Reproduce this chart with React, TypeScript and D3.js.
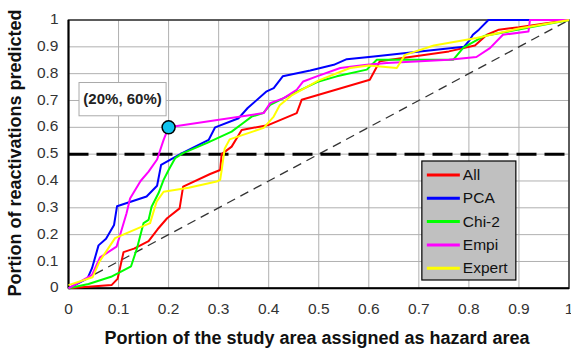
import { useRef, useEffect } from 'react'
import * as d3 from 'd3'

type Pt = [number, number]

const SERIES_NAMES = ['All', 'PCA', 'Chi-2', 'Empi', 'Expert']
const COLORS = ['#ff0000', '#0000ff', '#00ff00', '#ff00ff', '#ffff00']

// [portion of area, portion of reactivations]
const ALL: Pt[] = [
  [0, 0], [0.086, 0.012], [0.098, 0.035], [0.11, 0.135], [0.131, 0.148], [0.16, 0.176],
  [0.178, 0.22], [0.197, 0.261], [0.222, 0.298], [0.229, 0.379], [0.283, 0.426], [0.303, 0.441],
  [0.306, 0.5], [0.326, 0.528], [0.346, 0.59], [0.4, 0.609], [0.456, 0.653], [0.466, 0.703],
  [0.602, 0.777], [0.622, 0.846], [0.76, 0.883], [0.812, 0.905], [0.836, 0.945], [0.86, 0.964],
  [0.9, 0.973], [1, 1],
]
const PCA: Pt[] = [
  [0, 0], [0.038, 0.037], [0.047, 0.075], [0.06, 0.16], [0.075, 0.185], [0.091, 0.236],
  [0.097, 0.306], [0.156, 0.342], [0.177, 0.382], [0.185, 0.46], [0.226, 0.503], [0.28, 0.553],
  [0.293, 0.6], [0.34, 0.634], [0.358, 0.672], [0.396, 0.734], [0.41, 0.746], [0.428, 0.79],
  [0.483, 0.812], [0.53, 0.833], [0.556, 0.854], [0.61, 0.864], [0.79, 0.9], [0.802, 0.926],
  [0.808, 0.945], [0.82, 0.964], [0.839, 1], [1, 1],
]
const CHI2: Pt[] = [
  [0, 0], [0.04, 0.016], [0.085, 0.043], [0.125, 0.082], [0.137, 0.15], [0.15, 0.243],
  [0.16, 0.255], [0.166, 0.304], [0.18, 0.355], [0.19, 0.404], [0.2, 0.441], [0.213, 0.485],
  [0.229, 0.504], [0.276, 0.541], [0.326, 0.584], [0.349, 0.616], [0.366, 0.64], [0.389, 0.653],
  [0.403, 0.684], [0.443, 0.721], [0.5, 0.771], [0.536, 0.79], [0.596, 0.815], [0.616, 0.852],
  [0.769, 0.852], [0.789, 0.897], [0.83, 0.94], [0.915, 0.97], [1, 1],
]
const EMPI: Pt[] = [
  [0, 0], [0.047, 0.05], [0.063, 0.115], [0.096, 0.155], [0.116, 0.28], [0.123, 0.335],
  [0.144, 0.4], [0.16, 0.435], [0.177, 0.48], [0.19, 0.553], [0.2, 0.6], [0.39, 0.653],
  [0.403, 0.69], [0.43, 0.709], [0.456, 0.74], [0.469, 0.771], [0.496, 0.79], [0.543, 0.821],
  [0.596, 0.833], [0.636, 0.84], [0.76, 0.852], [0.815, 0.862], [0.842, 0.895], [0.868, 0.945],
  [0.919, 0.957], [0.922, 1], [1, 1],
]
const EXPERT: Pt[] = [
  [0, 0.012], [0.048, 0.041], [0.062, 0.1], [0.093, 0.187], [0.163, 0.243], [0.176, 0.323],
  [0.19, 0.36], [0.24, 0.375], [0.296, 0.398], [0.303, 0.404], [0.306, 0.44], [0.312, 0.52],
  [0.322, 0.555], [0.39, 0.598], [0.41, 0.64], [0.422, 0.682], [0.445, 0.718], [0.5, 0.775],
  [0.5625, 0.821], [0.6, 0.83], [0.656, 0.821], [0.672, 0.87], [0.73, 0.905], [0.815, 0.933],
  [0.9, 0.968], [1, 1],
]
const SERIES = [ALL, PCA, CHI2, EMPI, EXPERT]

const TICKS = [0, 0.1, 0.2, 0.3, 0.4, 0.5, 0.6, 0.7, 0.8, 0.9, 1]
const TICK_LABELS = ['0', '0.1', '0.2', '0.3', '0.4', '0.5', '0.6', '0.7', '0.8', '0.9', '1']
const HIGHLIGHT: Pt = [0.2, 0.6]
const HIGHLIGHT_LABEL = '(20%, 60%)'
const THRESHOLD = 0.5

const FONT = "Arial,'Liberation Sans',sans-serif"

export default function App() {
  const svgRef = useRef<SVGSVGElement>(null)

  useEffect(() => {
    const svg = svgRef.current
    if (!svg) return
    const W = 571
    const H = 348
    const sel = d3.select(svg)
    sel.selectAll('*').remove()
    sel.attr('width', W).attr('height', H)

    const x = d3.scaleLinear().domain([0, 1]).range([68.5, 569])
    const y = d3.scaleLinear().domain([0, 1]).range([288.3, 20])

    // grid
    TICKS.forEach((t) => {
      sel.append('line')
        .attr('x1', x(t)).attr('x2', x(t)).attr('y1', y(0)).attr('y2', y(1))
        .attr('stroke', '#b0b0b0').attr('stroke-width', 1)
      sel.append('line')
        .attr('x1', x(0)).attr('x2', x(1)).attr('y1', y(t)).attr('y2', y(t))
        .attr('stroke', '#b0b0b0').attr('stroke-width', 1)
    })

    // frame
    sel.append('rect')
      .attr('x', x(0)).attr('y', y(1))
      .attr('width', x(1) - x(0)).attr('height', y(0) - y(1))
      .attr('fill', 'none').attr('stroke', '#333').attr('stroke-width', 1.5)
    sel.append('line')
      .attr('x1', x(0)).attr('x2', x(0)).attr('y1', y(0)).attr('y2', y(1))
      .attr('stroke', '#000').attr('stroke-width', 2)
    sel.append('line')
      .attr('x1', x(0)).attr('x2', x(1)).attr('y1', y(0)).attr('y2', y(0))
      .attr('stroke', '#000').attr('stroke-width', 2)

    // tick labels
    TICKS.forEach((t, i) => {
      sel.append('text')
        .attr('x', x(0) - 10).attr('y', y(t))
        .attr('text-anchor', 'end').attr('dominant-baseline', 'middle')
        .attr('fill', '#333').attr('font-size', '15.5px').attr('font-family', FONT)
        .text(TICK_LABELS[i])
      sel.append('text')
        .attr('x', x(t)).attr('y', 310)
        .attr('text-anchor', 'middle').attr('dominant-baseline', 'middle')
        .attr('fill', '#333').attr('font-size', '15.5px').attr('font-family', FONT)
        .text(TICK_LABELS[i])
    })

    // axis titles
    sel.append('text')
      .attr('x', 317).attr('y', 344)
      .attr('text-anchor', 'middle')
      .attr('font-weight', 'bold').attr('font-size', '18px').attr('font-family', FONT)
      .attr('fill', '#111')
      .text('Portion of the study area assigned as hazard area')
    sel.append('text')
      .attr('transform', `translate(21,153) rotate(-90)`)
      .attr('text-anchor', 'middle')
      .attr('font-weight', 'bold').attr('font-size', '18px').attr('font-family', FONT)
      .attr('fill', '#111')
      .text('Portion of reactivations predicted')

    // reference lines
    sel.append('line')
      .attr('x1', x(0)).attr('y1', y(0)).attr('x2', x(1)).attr('y2', y(1))
      .attr('stroke', '#333').attr('stroke-width', 1.3).attr('stroke-dasharray', '9,6')
    sel.append('line')
      .attr('x1', x(0)).attr('x2', x(1)).attr('y1', y(THRESHOLD)).attr('y2', y(THRESHOLD))
      .attr('stroke', '#000').attr('stroke-width', 3).attr('stroke-dasharray', '20,8')

    // curves
    const line = d3.line<Pt>().x((d) => x(d[0])).y((d) => y(d[1]))
    SERIES.forEach((s, i) => {
      sel.append('path')
        .datum(s)
        .attr('fill', 'none')
        .attr('stroke', COLORS[i])
        .attr('stroke-width', 2)
        .attr('stroke-linejoin', 'round')
        .attr('d', line)
    })

    // annotation
    sel.append('rect')
      .attr('x', x(0.021)).attr('y', y(0.767))
      .attr('width', x(0.195) - x(0.021)).attr('height', y(0.643) - y(0.767))
      .attr('fill', '#fff').attr('stroke', '#aaa').attr('stroke-width', 1)
    sel.append('text')
      .attr('x', (x(0.021) + x(0.195)) / 2).attr('y', (y(0.767) + y(0.643)) / 2 + 1)
      .attr('text-anchor', 'middle').attr('dominant-baseline', 'middle')
      .attr('font-weight', 'bold').attr('font-size', '15px').attr('font-family', FONT)
      .attr('fill', '#222')
      .text(HIGHLIGHT_LABEL)
    sel.append('circle')
      .attr('cx', x(HIGHLIGHT[0])).attr('cy', y(HIGHLIGHT[1])).attr('r', 6.5)
      .attr('fill', '#10c4ee').attr('stroke', '#000').attr('stroke-width', 1.5)

    // legend
    const lx = x(0.706)
    const ly = 161
    const lg = sel.append('g').attr('transform', `translate(${lx},${ly})`)
    lg.append('rect')
      .attr('width', 94).attr('height', 119)
      .attr('fill', '#c0c0c0').attr('stroke', '#000').attr('stroke-width', 1.2)
    SERIES_NAMES.forEach((name, i) => {
      const cy = 14 + i * 23.3
      lg.append('line')
        .attr('x1', 5).attr('x2', 38).attr('y1', cy).attr('y2', cy)
        .attr('stroke', COLORS[i]).attr('stroke-width', 3)
      lg.append('text')
        .attr('x', 41).attr('y', cy + 1)
        .attr('dominant-baseline', 'middle')
        .attr('font-size', '15.5px').attr('font-family', FONT).attr('fill', '#111')
        .text(name)
    })
  }, [])

  return (
    <svg
      ref={svgRef}
      style={{ position: 'absolute', left: 0, top: 0, display: 'block', background: '#fff' }}
    />
  )
}
